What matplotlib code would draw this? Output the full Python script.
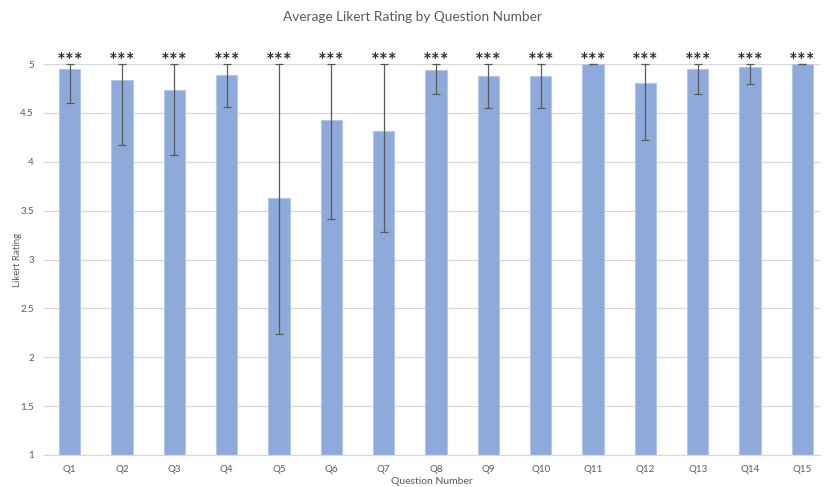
import matplotlib
matplotlib.use("Agg")
import matplotlib.pyplot as plt
import numpy as np

questions = ["Q1", "Q2", "Q3", "Q4", "Q5", "Q6", "Q7", "Q8", "Q9", "Q10",
             "Q11", "Q12", "Q13", "Q14", "Q15"]
means = [4.95, 4.84, 4.73, 4.89, 3.63, 4.43, 4.31, 4.94, 4.88, 4.88,
         5.00, 4.81, 4.95, 4.97, 5.00]
errors = [0.35, 0.67, 0.66, 0.33, 1.39, 1.02, 1.03, 0.25, 0.33, 0.33,
          0.00, 0.59, 0.26, 0.17, 0.00]
sig_labels = ["***"] * 15
yticks = [1, 1.5, 2, 2.5, 3, 3.5, 4, 4.5, 5]

plt.rcParams['font.family'] = ['Lato', 'DejaVu Sans']

fig = plt.figure(figsize=(8.24, 4.87), dpi=100)
W, H = 824, 487
ax = fig.add_axes([43.5 / W, 1 - 455 / H, (820 - 43.5) / W, (455 - 64) / H])

x = np.arange(len(questions))
means_a = np.array(means)
err_a = np.array(errors)
ymax = 5.0
lower = np.minimum(err_a, means_a - 1)
upper = np.minimum(means_a + err_a, ymax) - means_a

ax.bar(x, means_a - 1, bottom=1, width=0.41, color="#8EAADB",
       edgecolor="#B4C7E7", linewidth=0.8, zorder=2)
ax.errorbar(x, means_a, yerr=[lower, upper], fmt="none", ecolor="#595959",
            elinewidth=0.9, capsize=3, capthick=0.9, zorder=3, clip_on=False)

for xi, lab in zip(x, sig_labels):
    ax.text(xi, 5.0 + 2 / 97.75, lab, ha="center", va="center",
            fontsize=15, color="#262626", fontweight="semibold", clip_on=False)

ax.set_xlim(-0.5, 14.336)
ax.set_ylim(1, 5)
ax.set_yticks(yticks)
ax.set_yticklabels([("%g" % t) for t in yticks])
ax.set_xticks(x)
ax.set_xticklabels(questions)
ax.yaxis.grid(True, color="#D9D9D9", linewidth=0.9, zorder=0)
ax.set_axisbelow(True)
for s in ["top", "right", "left"]:
    ax.spines[s].set_visible(False)
ax.spines["bottom"].set_color("#D9D9D9")
ax.spines["bottom"].set_linewidth(0.9)
ax.tick_params(axis="both", length=0, labelsize=7, colors="#595959", pad=7)

ax.set_ylabel("Likert Rating", fontsize=7, color="#595959")
ax.yaxis.set_label_coords((18 - 43.5) / 776.5, 0.5)
ax.set_xlabel("Question Number", fontsize=7.5, color="#595959")
ax.xaxis.set_label_coords(0.5, (455 - 481) / 391)
ax.xaxis.label.set_va("center")
ax.yaxis.label.set_va("center")
fig.text(0.5, 1 - 17 / H, "Average Likert Rating by Question Number",
         ha="center", va="center", fontsize=9.8, color="#595959")

fig.savefig("out.png", dpi=100)
